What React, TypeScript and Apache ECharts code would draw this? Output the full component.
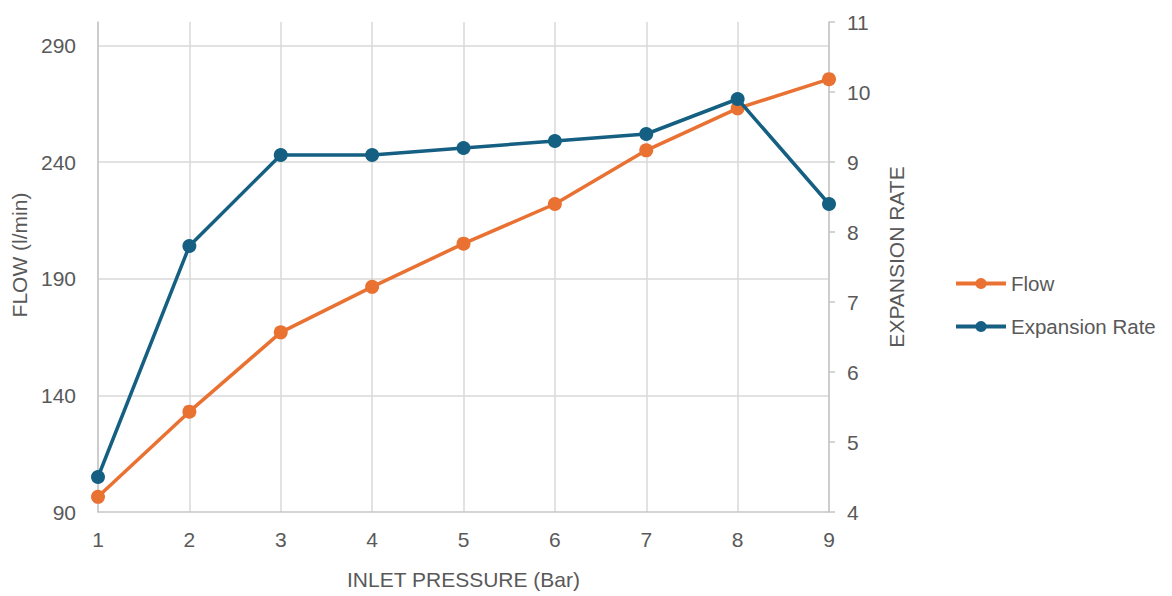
import React, { useEffect, useRef } from "react";
import * as echarts from "echarts";

const pressures = ["1", "2", "3", "4", "5", "6", "7", "8", "9"];
const flow = [96.5, 133, 167, 186.5, 205, 222, 245, 263, 275.5];
const expansionRate = [4.5, 7.8, 9.1, 9.1, 9.2, 9.3, 9.4, 9.9, 8.4];

const TEXT = "#595959";
const GRID = "#d9d9d9";
const AXIS = "#c6c6c6";
const ORANGE = "#E97132";
const BLUE = "#156082";
const FONT = "Liberation Sans";
const FS = 21;

export default function App() {
  const ref = useRef<HTMLDivElement>(null);
  useEffect(() => {
    if (!ref.current) return;
    const chart = echarts.init(ref.current, undefined, { renderer: "svg" });
    chart.setOption({
      animation: false,
      backgroundColor: "#ffffff",
      textStyle: { fontFamily: FONT, color: TEXT },
      grid: { left: 98, right: 343, top: 22, bottom: 84, containLabel: false },
      legend: {
        orient: "vertical",
        left: 954,
        top: 273,
        padding: 0,
        itemWidth: 50,
        itemHeight: 14,
        itemGap: 22,
        lineStyle: { width: 4 },
        textStyle: { fontFamily: FONT, fontSize: 20.5, color: TEXT },
        data: ["Flow", "Expansion Rate"],
      },
      xAxis: {
        type: "category",
        data: pressures,
        boundaryGap: false,
        name: "INLET PRESSURE (Bar)",
        nameLocation: "middle",
        nameGap: 57,
        nameTextStyle: { fontFamily: FONT, fontSize: FS, color: TEXT },
        axisLine: { show: true, lineStyle: { color: AXIS, width: 1.5 } },
        axisTick: { show: false },
        axisLabel: { fontFamily: FONT, fontSize: FS, color: TEXT, margin: 17 },
        splitLine: { show: true, lineStyle: { color: GRID, width: 1.5 } },
      },
      yAxis: [
        {
          type: "value",
          position: "left",
          min: 90,
          max: 300,
          interval: 50,
          name: "FLOW (l/min)",
          nameLocation: "middle",
          nameRotate: 90,
          nameGap: 65,
          nameTextStyle: { fontFamily: FONT, fontSize: FS, color: TEXT, padding: [0, 0, 0, 24] },
          axisLine: { show: true, lineStyle: { color: AXIS, width: 1.5 } },
          axisTick: { show: false },
          axisLabel: {
            fontFamily: FONT,
            fontSize: FS,
            color: TEXT,
            margin: 22,
            showMaxLabel: false,
            formatter: (v: number) => (v === 300 ? "" : String(v)),
          },
          splitLine: {
            show: true,
            showMinLine: false,
            showMaxLine: false,
            lineStyle: { color: GRID, width: 1.5 },
          },
        },
        {
          type: "value",
          position: "right",
          min: 4,
          max: 11,
          interval: 1,
          name: "EXPANSION RATE",
          nameLocation: "middle",
          nameRotate: 90,
          nameGap: 57,
          nameTextStyle: { fontFamily: FONT, fontSize: FS, color: TEXT, padding: [0, 0, 0, 20] },
          axisLine: { show: true, lineStyle: { color: AXIS, width: 1.5 } },
          axisTick: { show: true, length: 6, lineStyle: { color: AXIS, width: 1.5 } },
          axisLabel: { fontFamily: FONT, fontSize: FS, color: TEXT, margin: 18 },
          splitLine: { show: false },
        },
      ],
      series: [
        {
          name: "Flow",
          type: "line",
          yAxisIndex: 0,
          data: flow,
          symbol: "circle",
          symbolSize: 14,
          lineStyle: { color: ORANGE, width: 3.5 },
          itemStyle: { color: ORANGE },
          z: 2,
        },
        {
          name: "Expansion Rate",
          type: "line",
          yAxisIndex: 1,
          data: expansionRate,
          symbol: "circle",
          symbolSize: 14,
          lineStyle: { color: BLUE, width: 3.5 },
          itemStyle: { color: BLUE },
          z: 3,
        },
      ],
    });
    return () => chart.dispose();
  }, []);
  return (
    <div
      ref={ref}
      style={{ position: "fixed", left: 0, top: 0, width: 1172, height: 596 }}
    />
  );
}
